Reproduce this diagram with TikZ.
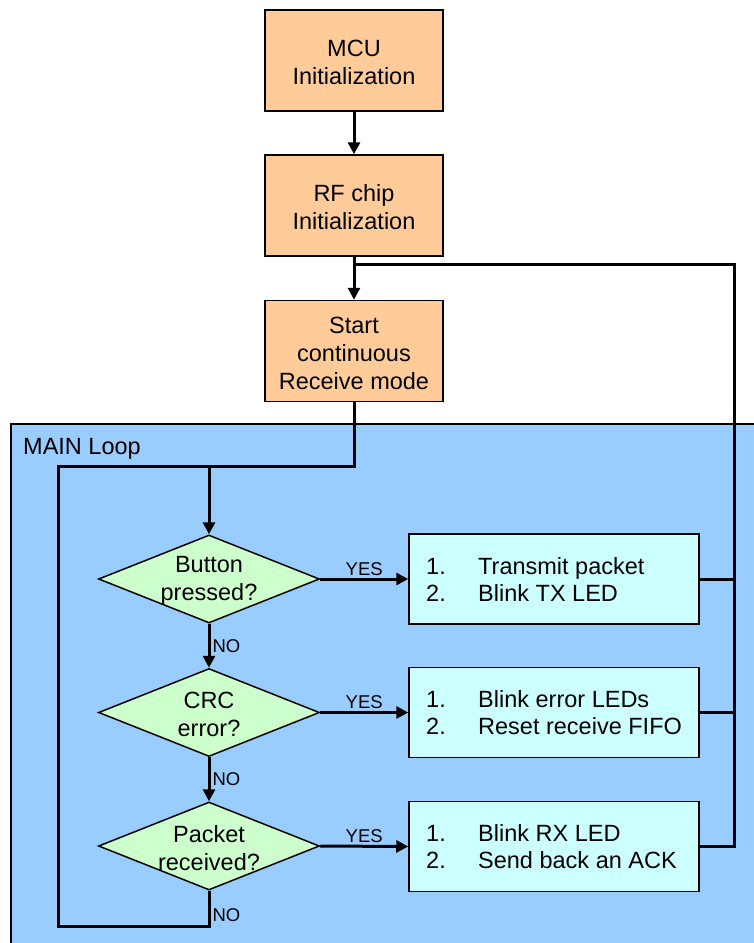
\documentclass[tikz,border=0pt]{standalone}
\usepackage{fontspec}
\setmainfont{Liberation Sans}
\usetikzlibrary{shapes.geometric,arrows.meta}
\definecolor{orangefill}{HTML}{FFCC99}
\definecolor{loopblue}{HTML}{99CCFF}
\definecolor{greenfill}{HTML}{CCFFCC}
\definecolor{cyanfill}{HTML}{CCFFFF}
\begin{document}
\begin{tikzpicture}[x=1pt,y=-1pt,
 every node/.style={font=\fontsize{23.5}{28}\selectfont},
 initbox/.style={draw=black,line width=1.5pt,fill=orangefill,minimum width=178pt,minimum height=101pt,inner sep=0pt,align=center},
 decbox/.style={diamond,draw=black,line width=1.5pt,fill=greenfill,minimum width=221pt,minimum height=88pt,inner sep=0pt},
 actbox/.style={draw=black,line width=1.5pt,fill=cyanfill,minimum width=290pt,minimum height=90pt,inner sep=0pt},
 dectext/.style={align=center,inner sep=0pt,font=\fontsize{23.5}{28}\selectfont},
 acttext/.style={anchor=west,inner sep=0pt,font=\fontsize{23.5}{27}\selectfont},
 conn/.style={line width=3pt},
 arr/.style={conn,-{Triangle[length=12pt,width=12pt]}},
 lbl/.style={font=\fontsize{18.5}{22}\selectfont,inner sep=2pt}
]
\useasboundingbox (0,0) rectangle (754,943);
\clip (0,0) rectangle (754,943);
% main loop region
\node[draw=black,line width=1.5pt,fill=loopblue,anchor=north west,minimum width=760pt,minimum height=525pt,inner sep=0pt] (loop) at (10,423) {};
\node[anchor=base west,inner sep=0pt] (looplbl) at (23,454) {MAIN Loop};
% init boxes
\node[initbox] (mcu) at (354,60.5) {};
\node[align=center,inner sep=0pt] (mcut) at (354,62.5) {MCU\\Initialization};
\node[initbox] (rf) at (354,205.5) {};
\node[align=center,inner sep=0pt] (rft) at (354,207.5) {RF chip\\Initialization};
\node[initbox] (start) at (354,351) {};
\node[align=center,inner sep=0pt] (startt) at (354,353) {Start\\continuous\\Receive mode};
% decisions
\node[decbox] (d1) at (209,579) {};
\node[dectext] (d1t) at (209,581) {Button\\pressed?};
\node[decbox] (d2) at (209,712.5) {};
\node[dectext] (d2t) at (209,714) {CRC\\error?};
\node[decbox] (d3) at (209,846) {};
\node[dectext] (d3t) at (209,848) {Packet\\received?};
% actions
\node[actbox] (b1) at (554,579) {};
\node[acttext] (b1t) at (426,582.5) {\begin{tabular}{@{}p{52pt}@{}l@{}}1. & Transmit packet\\ 2. & Blink TX LED\end{tabular}};
\node[actbox] (b2) at (554,712.5) {};
\node[acttext] (b2t) at (426,716) {\begin{tabular}{@{}p{52pt}@{}l@{}}1. & Blink error LEDs\\ 2. & Reset receive FIFO\end{tabular}};
\node[actbox] (b3) at (554,846.5) {};
\node[acttext] (b3t) at (426,849.5) {\begin{tabular}{@{}p{52pt}@{}l@{}}1. & Blink RX LED\\ 2. & Send back an ACK\end{tabular}};
% helper coordinates
\coordinate (j1) at (354,264);
\coordinate (xr) at (734,0);
\coordinate (j2) at (209,466);
\coordinate (bl) at (58,926);
% connectors
\draw[arr] (mcu) -- (rf);
\draw[arr] (rf) -- (start);
\draw[conn] (start.south) |- (j2);
\draw[arr] (j2) -- (d1.north);
\draw[arr] (d1.east) -- node[lbl,above] {YES} (b1.west);
\draw[arr] (d2.east) -- node[lbl,above] {YES} (b2.west);
\draw[arr] (d3.east) -- node[lbl,above] {YES} (b3.west);
\draw[arr] (d1.south) -- node[lbl,right,pos=0.5] {NO} (d2.north);
\draw[arr] (d2.south) -- node[lbl,right,pos=0.5] {NO} (d3.north);
\draw[conn] (d3.south) -- node[lbl,right,pos=0.7] {NO} (d3.south |- bl) -- (bl) |- (j2);
\draw[conn] (b1.east) -- (b1.east -| xr);
\draw[conn] (b2.east) -- (b2.east -| xr);
\draw[conn] (b3.east) -- (b3.east -| xr) |- (j1);
\end{tikzpicture}
\end{document}
